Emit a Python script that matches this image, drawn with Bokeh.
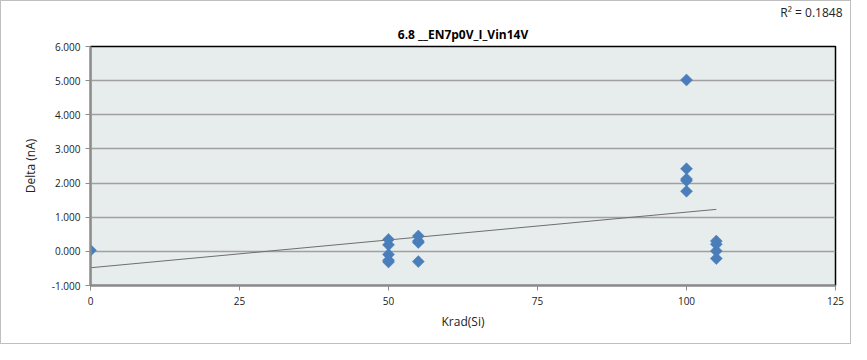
import math
from bokeh.plotting import figure
from bokeh.models import Range1d, FixedTicker, NumeralTickFormatter, Title
from bokeh.embed import file_html
from bokeh.resources import INLINE

# Data
krad = [0, 50, 50, 50, 50, 50, 55, 55, 55, 55, 100, 100, 100, 100, 100, 105, 105, 105, 105]
delta = [0.03, 0.35, 0.19, -0.09, -0.26, -0.31, 0.45, 0.30, 0.26, -0.30,
         5.02, 2.42, 2.12, 2.07, 1.76, 0.30, 0.21, 0.01, -0.21]
trend_x = [0, 105]
trend_y = [-0.48, 1.23]
x_ticks = [0, 25, 50, 75, 100, 125]
y_ticks = [-1, 0, 1, 2, 3, 4, 5, 6]
title_text = "6.8 __EN7p0V_I_Vin14V"
r2_text = "R² = 0.1848"

FONT = "Open Sans"

p = figure(width=851, height=344, output_backend="svg", toolbar_location=None,
           x_range=Range1d(0, 125), y_range=Range1d(-1, 6),
           min_border_left=89, min_border_right=17, min_border_top=45, min_border_bottom=60,
           background_fill_color="#E7ECEC", border_fill_color="white")
p.styles = {"border": "1px solid #BFBFBF", "box-sizing": "border-box"}

# outer row: R² text (right aligned)
p.title.text = r2_text
p.title.text_font = FONT
p.title.text_font_size = "12px"
p.title.text_font_style = "normal"
p.title.text_color = "#222222"
p.title.align = "right"
p.title.offset = -7
p.title.standoff = 0

# inner row: main title
p.add_layout(Title(text=title_text, text_font=FONT, text_font_size="12px",
                   text_font_style="bold", align="center", standoff=7,
                   text_color="#000000"), "above")

p.outline_line_color = "black"
p.outline_line_width = 1.5

p.xgrid.visible = False
p.ygrid.ticker = FixedTicker(ticks=y_ticks)
p.ygrid.grid_line_color = "#A0A0A0"
p.ygrid.grid_line_width = 1.5

p.xaxis.ticker = FixedTicker(ticks=x_ticks)
p.yaxis.ticker = FixedTicker(ticks=y_ticks)
p.yaxis.formatter = NumeralTickFormatter(format="0.000")
for ax in (p.xaxis, p.yaxis):
    ax.axis_line_color = "#8C8C8C"
    ax.axis_line_width = 2
    ax.major_tick_line_color = "#8C8C8C"
    ax.major_tick_out = 5
    ax.major_tick_in = 0
    ax.minor_tick_line_color = None
    ax.major_label_text_font = FONT
    ax.major_label_text_font_size = "10px"
    ax.major_label_text_color = "#222222"
    ax.axis_label_text_font = FONT
    ax.axis_label_text_font_size = "12px"
    ax.axis_label_text_font_style = "normal"
    ax.axis_label_text_color = "#222222"
p.xaxis.axis_label = "Krad(Si)"
p.yaxis.axis_label = "Delta (nA)"
p.xaxis.major_label_standoff = 6
p.xaxis.axis_label_standoff = 5
p.yaxis.axis_label_standoff = 10

p.line(trend_x, trend_y, line_color="#6E6E6E", line_width=1)
p.scatter(krad, delta, marker="square", angle=math.pi / 4, size=8.5,
          fill_color="#4A7EBB", line_color="#4A7EBB", line_width=0.5)

open("out.html", "w").write(file_html(p, INLINE))
